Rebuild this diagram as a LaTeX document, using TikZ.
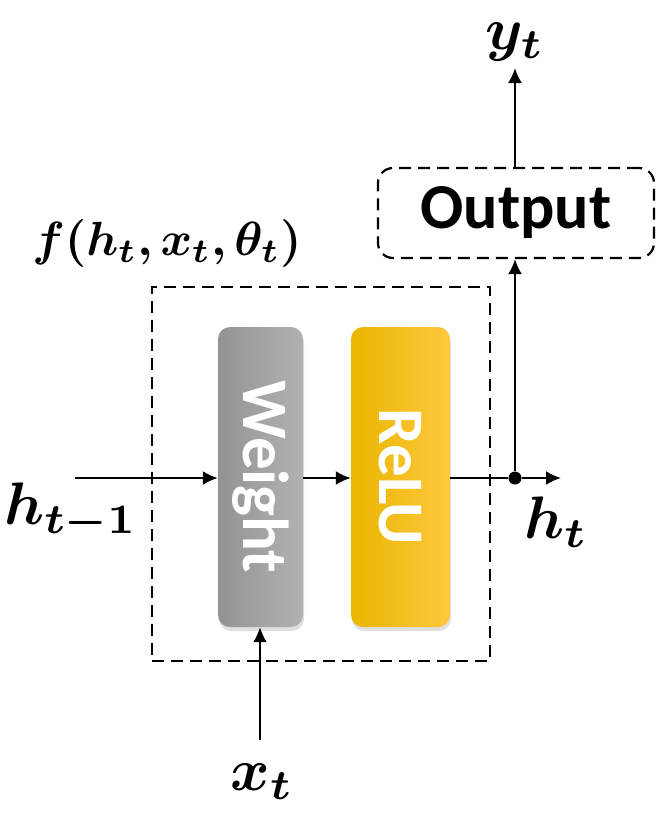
\documentclass[tikz,border=0pt]{standalone}
\usepackage{amsmath,bm,graphicx}
\usepackage{fontspec}
\setsansfont{Carlito}
\usetikzlibrary{arrows.meta,shadows}
\definecolor{wL}{HTML}{939393}
\definecolor{wR}{HTML}{B2B2B2}
\definecolor{rL}{HTML}{E9B600}
\definecolor{rM}{HTML}{FFC000}
\definecolor{rR}{HTML}{FFC83F}
\newcommand{\lblbig}[1]{\scalebox{6}{\fontsize{10}{12}\selectfont$\bm{#1}$}}
\newcommand{\lblmid}[1]{\scalebox{4.8}{\fontsize{10}{12}\selectfont$\bm{#1}$}}
\begin{document}
\begin{tikzpicture}[x=1pt,y=-1pt,
  arr/.style={line width=2.2pt,-{Latex[length=15pt,width=14pt]}},
  ln/.style={line width=2.2pt},
  dbox/.style={draw,line width=2.2pt,dash pattern=on 12pt off 7pt},
  blk/.style={rounded corners=12pt,minimum height=300pt,inner sep=0pt,
    drop shadow={opacity=0.25,shadow xshift=1pt,shadow yshift=-4pt}},
  blktxt/.style={text=white,font=\sffamily\bfseries\fontsize{65}{65}\selectfont,rotate=-90},
  mlab/.style={inner sep=0pt}]
\useasboundingbox (0,0) rectangle (656,815);
\node[dbox,minimum width=338pt,minimum height=374pt,inner sep=0pt] (fbox) at (321,474) {};
\node[blk,minimum width=85pt,left color=wL,right color=wR] (weight) at (260.5,477) {};
\node[blktxt] (wtxt) at (260.5,477) {Weight};
\node[blk,minimum width=99pt,left color=rL,middle color=rM,right color=rR] (relu) at (400.5,477) {};
\node[blktxt] (rtxt) at (400.5,477) {ReLU};
\node[dbox,rounded corners=15pt,minimum width=276pt,minimum height=90pt,inner sep=0pt,
  font=\sffamily\bfseries\fontsize{64}{64}\selectfont] (output) at (516,213) {Output};
\node[circle,fill=black,inner sep=0pt,minimum size=13pt] (dot) at (515,478) {};
\coordinate (inS) at (75,478);
\coordinate (xS) at (260,740);
\coordinate (hE) at (561,478);
\coordinate (yE) at (515,68);
\node[mlab] (ylab) at (515,42) {\lblbig{y_t}};
\node[mlab] (xlab) at (262,782) {\lblbig{x_t}};
\node[mlab] (hlab) at (556,522) {\lblbig{h_t}};
\node[mlab] (hprev) at (71,512) {\lblbig{h_{t-1}}};
\node[mlab] (flab) at (167,243) {\lblmid{f(h_t,x_t,\theta_t)}};
\draw[arr] (inS) -- (weight.west |- inS);
\draw[arr] (weight.east |- inS) -- (relu.west |- inS);
\draw[ln] (relu.east |- dot) -- (dot);
\draw[arr] (dot) -- (hE);
\draw[arr] (dot) -- (dot |- output.south);
\draw[arr] (dot |- output.north) -- (yE);
\draw[arr] (xS) -- (weight.south -| xS);
\end{tikzpicture}
\end{document}
